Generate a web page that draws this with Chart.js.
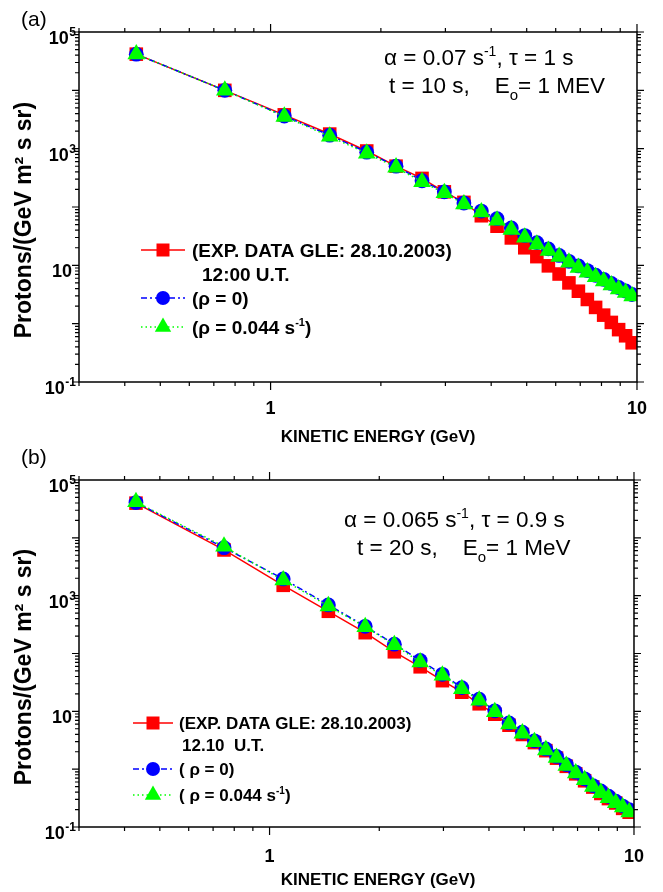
<!DOCTYPE html>
<html><head><meta charset="utf-8">
<script src="https://cdn.jsdelivr.net/npm/chart.js@4/dist/chart.umd.min.js"></script>
<style>
html,body{margin:0;padding:0;background:#fff;}
#wrap{position:relative;width:663px;height:892px;overflow:hidden;background:#fff;}
canvas{position:absolute;left:0;}
#c1{top:0;}
#c2{top:446px;}
</style></head><body>
<div id="wrap"><canvas id="c1" width="663" height="446"></canvas><canvas id="c2" width="663" height="446"></canvas></div>
<script>
// ---- data ----
const energy = [0.43, 0.75, 1.09, 1.45, 1.83, 2.2, 2.59, 2.98, 3.37, 3.76, 4.15, 4.54, 4.94, 5.33, 5.73, 6.13, 6.52, 6.92, 7.32, 7.71, 8.11, 8.51, 8.91, 9.31, 9.7];

// panel (a)
const expA  = [41700, 10000, 3800, 1780, 912, 501, 309, 182, 120, 70.8, 46.8, 29.5, 20.0, 14.1, 9.8, 7.1, 5.0, 3.6, 2.6, 1.9, 1.4, 1.05, 0.79, 0.62, 0.47];
const rho0A = [41700, 10000, 3630, 1700, 871, 501, 282, 182, 117, 85.1, 63.1, 43.7, 32.4, 24.5, 19.1, 14.8, 11.7, 9.77, 8.13, 6.76, 5.75, 4.90, 4.17, 3.63, 3.16];
const rhoA  = [41700, 10000, 3550, 1620, 832, 479, 269, 174, 112, 81.3, 58.9, 40.7, 30.2, 22.9, 17.8, 14.1, 11.2, 9.12, 7.59, 6.31, 5.37, 4.57, 3.89, 3.39, 2.95];

// panel (b)
const expB  = [39800, 6170, 1510, 537, 229, 107, 58.9, 33.9, 21.4, 13.5, 8.91, 5.75, 3.98, 2.88, 2.09, 1.55, 1.12, 0.83, 0.63, 0.49, 0.38, 0.31, 0.26, 0.21, 0.18];
const rho0B = [40700, 6760, 1950, 692, 295, 145, 75.9, 43.7, 25.7, 16.2, 10.2, 6.31, 4.37, 3.09, 2.24, 1.66, 1.20, 0.89, 0.68, 0.52, 0.42, 0.34, 0.28, 0.23, 0.20];
const rhoB  = [41700, 7080, 1860, 661, 288, 141, 70.8, 41.7, 24.5, 15.5, 9.77, 6.03, 4.17, 2.95, 2.14, 1.58, 1.15, 0.85, 0.65, 0.50, 0.39, 0.32, 0.26, 0.22, 0.18];

// axes / ticks
const xTickValues = [0.3, 0.4, 0.5, 0.6, 0.7, 0.8, 0.9, 1, 2, 3, 4, 5, 6, 7, 8, 9, 10];
const xMajorValues = [1, 10];
const xTickLabels = ['1', '10'];
const yDecades = [0.1, 1, 10, 100, 1000, 10000, 100000];
const yTickLabelValues = [0.1, 10, 1000, 100000];
const yTickLabelBase = ['10', '10', '10', '10'];
const yTickLabelExp = ['-1', '', '3', '5'];
const xTitle = 'KINETIC ENERGY (GeV)';
const yTitle = 'Protons/(GeV m\u00B2 s sr)';

const panelLetters = ['(a)', '(b)'];
const seriesColors = ['#ff0000', '#0000ff', '#00ff00'];

const FONT = '"Liberation Sans", Arial, "DejaVu Sans", sans-serif';

function sameVal(a, b) { return Math.abs(Math.log10(a) - Math.log10(b)) < 1e-6; }

function drawRich(ctx, parts, x, y, size, weight) {
  let cx = x;
  ctx.textBaseline = 'alphabetic';
  ctx.textAlign = 'left';
  parts.forEach(p => {
    let fs = size, dy = 0;
    if (p.sup) { fs = Math.round(size * 0.6); dy = -size * 0.42; }
    if (p.sub) { fs = Math.round(size * 0.65); dy = size * 0.32; }
    ctx.font = weight + ' ' + fs + 'px ' + FONT;
    ctx.fillText(p.t, cx, y + dy);
    cx += ctx.measureText(p.t).width;
  });
}

function drawMarker(ctx, kind, x, y, color) {
  ctx.fillStyle = color;
  ctx.beginPath();
  if (kind === 'rect') { ctx.rect(x - 6.5, y - 6.5, 13, 13); }
  else if (kind === 'circle') { ctx.arc(x, y, 7, 0, Math.PI * 2); }
  else { ctx.moveTo(x, y - 9.5); ctx.lineTo(x + 8.2, y + 4.8); ctx.lineTo(x - 8.2, y + 4.8); ctx.closePath(); }
  ctx.fill();
}

const markerKinds = ['rect', 'circle', 'triangle'];
const markerRadius = [9.6, 7.4, 10.2];
const lineDashes = [[], [6, 3, 2, 3], [1.5, 3]];

function makePanelPlugin(p) {
  return {
    id: 'panel' + p.id,
    afterDatasetsDraw(chart) {
      const ctx = chart.ctx, a = chart.chartArea, xs = chart.scales.x, ys = chart.scales.y;
      ctx.save();
      ctx.strokeStyle = '#000';
      ctx.lineWidth = 1.5;
      ctx.strokeRect(a.left, a.top, a.right - a.left, a.bottom - a.top);
      ctx.lineWidth = 1.2;
      ctx.beginPath();
      xs.ticks.forEach(t => {
        const px = xs.getPixelForValue(t.value);
        const L = t.major ? 8 : 4;
        ctx.moveTo(px, a.bottom); ctx.lineTo(px, a.bottom + L);
        ctx.moveTo(px, a.top); ctx.lineTo(px, a.top - L);
      });
      ys.ticks.forEach(t => {
        const py = ys.getPixelForValue(t.value);
        const L = t.major ? 7 : 4;
        ctx.moveTo(a.left, py); ctx.lineTo(a.left - L, py);
        ctx.moveTo(a.right, py); ctx.lineTo(a.right + L, py);
      });
      ctx.stroke();
      // y tick labels with real superscripts, placed by the y scale
      ctx.fillStyle = '#000';
      ctx.textBaseline = 'alphabetic';
      yTickLabelValues.forEach((v, i) => {
        const py = ys.getPixelForValue(v);
        const base = yTickLabelBase[i], ex = yTickLabelExp[i];
        ctx.font = 'bold 12px ' + FONT;
        const ew = ex ? ctx.measureText(ex).width : 0;
        const right = a.left - 3;
        ctx.textAlign = 'left';
        if (ex) ctx.fillText(ex, right - ew, py + 4);
        ctx.font = 'bold 18px ' + FONT;
        ctx.textAlign = 'right';
        ctx.fillText(base, right - ew - (ex ? 0.5 : 4), py + 12);
      });
      ctx.restore();
    },
    afterDraw(chart) {
      const ctx = chart.ctx;
      ctx.save();
      ctx.fillStyle = '#000';
      ctx.font = 'normal 21px ' + FONT;
      ctx.textBaseline = 'middle'; ctx.textAlign = 'left';
      ctx.fillText(p.letter, 21, p.letterY);
      ctx.font = 'bold 17px ' + FONT;
      ctx.textAlign = 'center'; ctx.textBaseline = 'middle';
      ctx.fillText(xTitle, p.xTitleX, p.xTitleY);
      ctx.save();
      ctx.translate(p.yTitleX, p.yTitleY);
      ctx.rotate(-Math.PI / 2);
      ctx.font = 'bold 23px ' + FONT;
      ctx.fillText(yTitle, 0, 0);
      ctx.restore();
      ctx.fillStyle = '#000';
      p.notes.forEach(n => drawRich(ctx, n.parts, n.x, n.y, 22.5, 'normal'));
      const L = p.legend;
      L.rows.forEach(r => {
        if (r.series !== undefined) {
          const c = seriesColors[r.series];
          ctx.strokeStyle = c; ctx.lineWidth = 1.5;
          ctx.setLineDash(lineDashes[r.series]);
          ctx.beginPath(); ctx.moveTo(L.x0, r.y); ctx.lineTo(L.x1, r.y); ctx.stroke();
          ctx.setLineDash([]);
          drawMarker(ctx, markerKinds[r.series], L.mx, r.y, c);
        }
        ctx.fillStyle = '#000';
        drawRich(ctx, r.parts, r.tx !== undefined ? r.tx : L.tx, r.y + L.size * 0.36, L.size, 'bold');
      });
      ctx.restore();
    }
  };
}

function ds(label, values, idx, order) {
  return {
    label: label,
    data: energy.map((e, i) => ({x: e, y: values[i]})),
    borderColor: seriesColors[idx],
    backgroundColor: seriesColors[idx],
    borderWidth: 1.5,
    borderDash: lineDashes[idx],
    pointStyle: markerKinds[idx],
    pointRadius: markerRadius[idx],
    pointBackgroundColor: seriesColors[idx],
    pointBorderColor: seriesColors[idx],
    pointBorderWidth: 0,
    tension: 0,
    fill: false,
    order: order
  };
}

function buildChart(p) {
  return new Chart(document.getElementById(p.canvas), {
    type: 'line',
    data: {datasets: [
      ds(p.names[0], p.exp, 0, 3),
      ds(p.names[1], p.rho0, 1, 2),
      ds(p.names[2], p.rho, 2, 1)
    ]},
    options: {
      responsive: false, animation: false, devicePixelRatio: 1,
      layout: {padding: {top: p.padTop, right: 13, left: 0, bottom: 0}},
      plugins: {legend: {display: false}, tooltip: {enabled: false}, title: {display: false}},
      scales: {
        x: {
          type: 'logarithmic', min: 0.3, max: 10, position: 'bottom',
          grid: {display: false, drawTicks: false}, border: {display: false},
          title: {display: false},
          ticks: {
            autoSkip: false, maxRotation: 0, minRotation: 0, padding: p.xPad, color: '#000',
            font: {family: FONT, size: 18, weight: 'bold'},
            callback: v => { const i = xMajorValues.findIndex(t => sameVal(t, v)); return i >= 0 ? xTickLabels[i] : ''; }
          },
          afterBuildTicks: s => { s.ticks = xTickValues.map(v => ({value: v, major: xMajorValues.some(m => sameVal(m, v))})); },
          afterFit: s => { s.height = p.xAxisH; }
        },
        y: {
          type: 'logarithmic', min: 0.1, max: 100000, position: 'left',
          grid: {display: false, drawTicks: false}, border: {display: false},
          title: {display: false},
          ticks: {display: false, autoSkip: false},
          afterBuildTicks: s => {
            const t = [];
            yDecades.forEach((d, k) => {
              t.push({value: d, major: true});
              if (k < yDecades.length - 1) for (let m = 2; m <= 9; m++) t.push({value: d * m, major: false});
            });
            s.ticks = t;
          },
          afterFit: s => { s.width = 79; }
        }
      }
    },
    plugins: [makePanelPlugin(p)]
  });
}

buildChart({
  id: 'a', canvas: 'c1', padTop: 32, xAxisH: 64, xPad: 16,
  exp: expA, rho0: rho0A, rho: rhoA,
  names: ['(EXP. DATA GLE: 28.10.2003) 12:00 U.T.', '(\u03C1 = 0)', '(\u03C1 = 0.044 s-1)'],
  letter: panelLetters[0], letterY: 20,
  xTitleX: 378, xTitleY: 437, yTitleX: 25, yTitleY: 220,
  notes: [
    {x: 384, y: 65, parts: [{t: '\u03B1 = 0.07 s'}, {t: '-1', sup: 1}, {t: ', \u03C4 = 1 s'}]},
    {x: 389, y: 93, parts: [{t: 't = 10 s,    E'}, {t: 'o', sub: 1}, {t: '= 1 MEV'}]}
  ],
  legend: {x0: 141, x1: 185, mx: 163, tx: 192, size: 19, rows: [
    {y: 250, series: 0, parts: [{t: '(EXP. DATA GLE: 28.10.2003)'}]},
    {y: 274, tx: 202, parts: [{t: '12:00 U.T.'}]},
    {y: 298, series: 1, parts: [{t: '(\u03C1 = 0)'}]},
    {y: 327, series: 2, parts: [{t: '(\u03C1 = 0.044 s'}, {t: '-1', sup: 1}, {t: ')'}]}
  ]}
});

buildChart({
  id: 'b', canvas: 'c2', padTop: 34, xAxisH: 65, xPad: 19,
  exp: expB, rho0: rho0B, rho: rhoB,
  names: ['(EXP. DATA GLE: 28.10.2003) 12.10 U.T.', '( \u03C1 = 0)', '( \u03C1 = 0.044 s-1)'],
  letter: panelLetters[1], letterY: 12,
  xTitleX: 378, xTitleY: 434, yTitleX: 25, yTitleY: 221,
  notes: [
    {x: 344, y: 81, parts: [{t: '\u03B1 = 0.065 s'}, {t: '-1', sup: 1}, {t: ', \u03C4 = 0.9 s'}]},
    {x: 357, y: 109, parts: [{t: 't = 20 s,    E'}, {t: 'o', sub: 1}, {t: '= 1 MeV'}]}
  ],
  legend: {x0: 133, x1: 173, mx: 153, tx: 179, size: 17, rows: [
    {y: 277, series: 0, parts: [{t: '(EXP. DATA GLE: 28.10.2003)'}]},
    {y: 299, tx: 182, parts: [{t: '12.10  U.T.'}]},
    {y: 323, series: 1, parts: [{t: '( \u03C1 = 0)'}]},
    {y: 349, series: 2, parts: [{t: '( \u03C1 = 0.044 s'}, {t: '-1', sup: 1}, {t: ')'}]}
  ]}
});
</script>
</body></html>
